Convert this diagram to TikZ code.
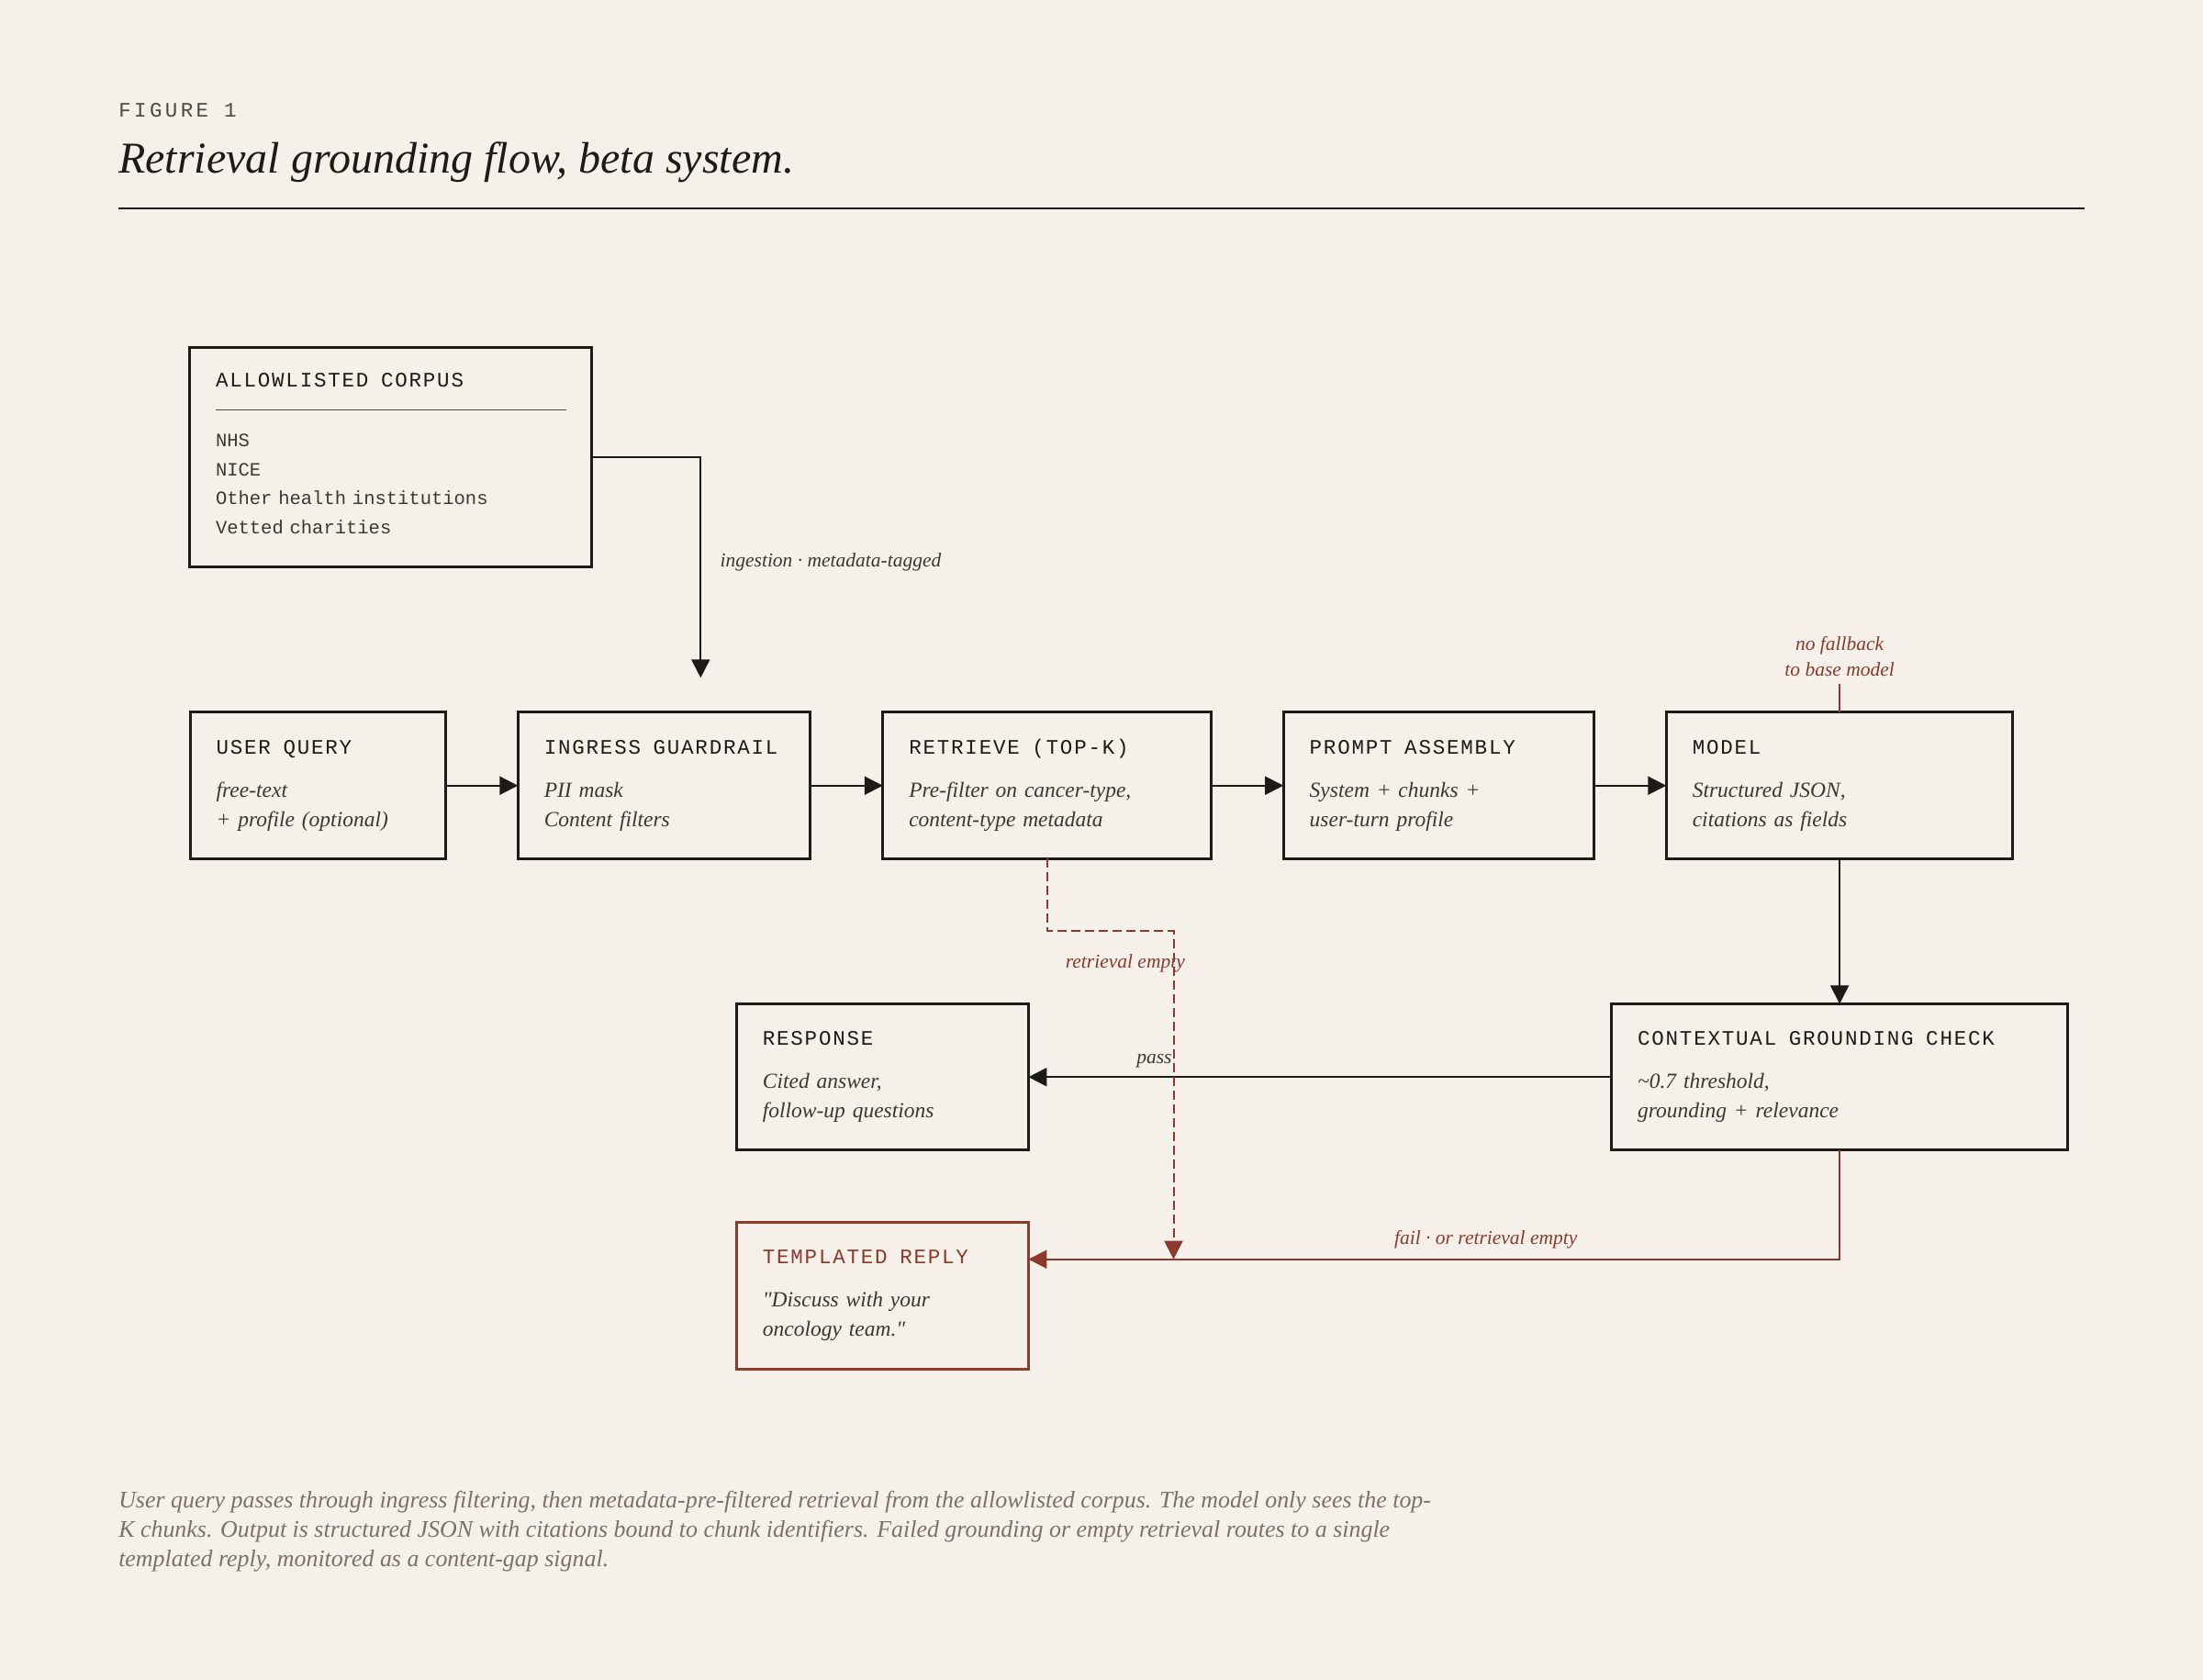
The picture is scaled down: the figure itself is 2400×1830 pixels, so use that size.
\documentclass[tikz,border=0pt]{standalone}
\usepackage{fontspec}
\setmainfont{Liberation Serif}
\setmonofont{Liberation Mono}
\newfontfamily\stagemono[LetterSpace=8]{Liberation Mono}
\newfontfamily\figmono[LetterSpace=15]{Liberation Mono}
\usetikzlibrary{arrows.meta,calc}
\definecolor{paper}{HTML}{F5F1EA}
\definecolor{ink}{HTML}{1C1B19}
\definecolor{bodyink}{HTML}{3B3732}
\definecolor{rust}{HTML}{8B3A2B}
\definecolor{muted}{HTML}{7A7268}
\definecolor{figgrey}{HTML}{4D4842}
\newcommand{\stagename}[2][ink]{{\color{#1}\upshape\stagemono\fontsize{6.75}{9.6}\selectfont\mbox{#2}}}
\newcommand{\ws}{\hphantom{X}}
\begin{document}
\begin{tikzpicture}[x=0.3pt,y=-0.3pt,
  >={Triangle[length=6pt,width=6pt]},
  stage/.style={rectangle,draw=ink,line width=0.9pt,align=left,
    outer sep=0,inner xsep=8.55pt,inner ysep=1pt,
    minimum height=47.85pt,
    text width=#1,text=bodyink,
    font=\fontsize{7.05}{9.6}\selectfont\itshape},
  corpus/.style={stage=#1,minimum height=71.7pt,
    font=\fontsize{6.15}{9.5}\selectfont\ttfamily},
  fallback/.style={stage=#1,draw=rust},
  flow/.style={draw=ink,line width=0.6pt,->},
  failflow/.style={draw=rust,line width=0.6pt,->},
  emptyflow/.style={draw=rust,line width=0.6pt,dash pattern=on 3pt off 1.5pt,->},
  edgelabel/.style={inner sep=0,text=bodyink,font=\fontsize{6.45}{8.3}\selectfont\itshape},
  faillabel/.style={edgelabel,text=rust}]
  \fill[paper] (0,0) rectangle (2400,1830);
  \useasboundingbox (0,0) rectangle (2400,1830);
  % header
  \node[anchor=base west,inner sep=0,text=figgrey,font=\figmono\fontsize{6.75}{8}\selectfont] (figno) at (128.6,128) {FIGURE 1};
  \node[anchor=base west,inner sep=0,text=ink,font=\fontsize{14.4}{17}\selectfont\itshape] (title) at (128.6,189) {Retrieval grounding flow, beta system.};
  \draw[ink,line width=0.6pt] (128.6,226.7) -- (2271.4,226.7);
  % stages
  \node[corpus=114.15pt] (corpus) at (425.25,498) {\stagename{ALLOWLISTED\ws CORPUS}\\[9.95pt]NHS\\NICE\\Other health institutions\\Vetted charities\rule[-2.4pt]{0pt}{0pt}};
  \node[stage=66.3pt] (query) at (346.1,855.75) {\stagename{USER\ws QUERY}\\[4.5pt]free-text\\+ profile (optional)};
  \node[stage=78.4pt] (ingress) at (723.45,855.75) {\stagename{INGRESS\ws GUARDRAIL}\\[4.5pt]PII mask\\Content filters};
  \node[stage=90.2pt] (retrieve) at (1140.6,855.75) {\stagename{RETRIEVE\ws(TOP-K)}\\[4.5pt]Pre-filter on cancer-type,\\content-type metadata};
  \node[stage=84.3pt] (prompt) at (1567.2,855.75) {\stagename{PROMPT\ws ASSEMBLY}\\[4.5pt]System + chunks +\\user-turn profile};
  \node[stage=96.2pt] (model) at (2004.1,855.75) {\stagename{MODEL}\\[4.5pt]Structured JSON,\\citations as fields};
  \node[stage=78.3pt] (response) at (961.35,1173.25) {\stagename{RESPONSE}\\[4.5pt]Cited answer,\\follow-up questions};
  \node[stage=132pt] (cgc) at (2004.1,1173.25) {\stagename{CONTEXTUAL\ws GROUNDING\ws CHECK}\\[4.5pt]\textasciitilde0.7 threshold,\\grounding + relevance};
  \node[fallback=78.3pt] (tpl) at (961.35,1411.5) {\stagename[rust]{TEMPLATED\ws REPLY}\\[4.5pt]\textquotedbl Discuss with your\\oncology team.\textquotedbl};
  \draw[figgrey,line width=0.45pt] ($(corpus.north west)+(28.7,67.8)$) -- ($(corpus.north east)+(-27.4,67.8)$);
  \node[faillabel,align=center,anchor=south,inner ysep=2.4pt] (nofb) at (2004.1,745) {no fallback\\to base model};
  % junctions
  \coordinate (ingTop) at (763.3,738.3);
  \coordinate (jr1) at (1140.6,1013.8);
  \coordinate (jr2) at (1278.5,1013.8);
  \coordinate (jr3) at (1278.5,1371.7);
  \coordinate (tplIn) at ([yshift=11.94pt]tpl.east);
  % connectors
  \draw[flow] (corpus.east) -| node[edgelabel,pos=0.748,anchor=base west,xshift=6.1pt] (ingestLbl) {ingestion · metadata-tagged} (ingTop);
  \draw[flow] (query.east) -- (ingress.west);
  \draw[flow] (ingress.east) -- (retrieve.west);
  \draw[flow] (retrieve.east) -- (prompt.west);
  \draw[flow] (prompt.east) -- (model.west);
  \draw[flow] (model.south) -- (cgc.north);
  \draw[rust,line width=0.45pt] (model.north) -- (nofb.south);
  \draw[flow] (cgc.west) -- node[edgelabel,pos=0.7525,anchor=base east,yshift=4.5pt] (passLbl) {pass} (response.east);
  \draw[failflow] (cgc.south) |- node[faillabel,pos=0.718,anchor=base,yshift=5pt] (failLbl) {fail · or retrieval empty} (tplIn);
  \draw[emptyflow] (retrieve.south) -- (jr1) -- (jr2) -- node[faillabel,pos=0.1124,anchor=base,xshift=-15.8pt] (emptyLbl) {retrieval empty} (jr3);
  % caption
  \node[anchor=north west,inner sep=0,align=left,text=muted,font=\fontsize{7.78}{9.6}\selectfont\itshape] (caption) at (128.6,1624) {User query passes through ingress filtering, then metadata-pre-filtered retrieval from the allowlisted corpus. The model only sees the top-\\K chunks. Output is structured JSON with citations bound to chunk identifiers. Failed grounding or empty retrieval routes to a single\\templated reply, monitored as a content-gap signal.};
\end{tikzpicture}
\end{document}
